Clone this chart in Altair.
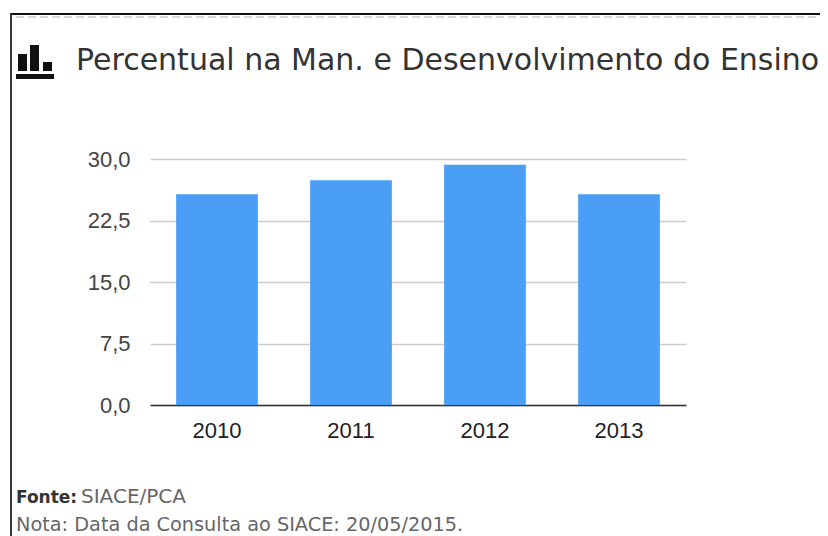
import altair as alt
import pandas as pd

years = ["2010", "2011", "2012", "2013"]
values = [25.7, 27.4, 29.3, 25.7]
y_ticks = [0, 7.5, 15, 22.5, 30]
title_text = "Percentual na Man. e Desenvolvimento do Ensino"
fonte_label = "Fonte:"
fonte_value = "SIACE/PCA"
nota_text = "Nota: Data da Consulta ao SIACE: 20/05/2015."

OX, OY = 150, 159  # plot origin on the page


def px(x):
    return alt.value(x - OX)


def py(y):
    return alt.value(y - OY)


df = pd.DataFrame({"ano": years, "valor": values})
one = pd.DataFrame({"a": [0]})

bars = alt.Chart(df).mark_bar(color="#4a9ef5").encode(
    x=alt.X(
        "ano:N",
        title=None,
        sort=years,
        scale=alt.Scale(paddingInner=0.39, paddingOuter=0.195),
        axis=alt.Axis(
            labelAngle=0, ticks=False, domainColor="#333333", domainWidth=1.5,
            labelFont="Liberation Sans", labelFontSize=22, labelColor="#222222",
            labelPadding=15,
        ),
    ),
    y=alt.Y(
        "valor:Q",
        title=None,
        scale=alt.Scale(domain=[0, 30]),
        axis=alt.Axis(
            values=y_ticks, ticks=False, domain=False, gridColor="#cccccc", gridWidth=1.3,
            labelFont="Liberation Sans", labelFontSize=22, labelColor="#444444",
            labelPadding=20, labelExpr="replace(format(datum.value, '.1f'), '.', ',')",
        ),
    ),
)


def rect(x1, x2, y1, y2, color):
    return alt.Chart(one).mark_rect(color=color).encode(
        x=px(x1), x2=px(x2), y=py(y1), y2=py(y2)
    )


def label(x, y, text, size, color, weight="normal"):
    return alt.Chart(pd.DataFrame({"t": [text]})).mark_text(
        align="left", baseline="alphabetic", font="DejaVu Sans",
        fontSize=size, color=color, fontWeight=weight,
    ).encode(x=px(x), y=py(y), text="t:N")


frame_top = rect(10, 828, 13, 15, "#111111")
frame_left = rect(10, 12, 13, 536, "#333333")
dashes = alt.Chart(one).mark_rule(color="#cccccc", strokeWidth=1.5, strokeDash=[8, 4]).encode(
    x=px(16), x2=px(828), y=py(17)
)
icon = [
    rect(18, 27, 54, 71, "#111111"),
    rect(30, 39, 45, 71, "#111111"),
    rect(43, 52, 62, 71, "#111111"),
    rect(16, 54, 74, 79, "#111111"),
]

chart = alt.layer(
    bars,
    frame_top, frame_left, dashes, *icon,
    label(76, 70, title_text, 30, "#333333"),
    label(16, 503, fonte_label, 17, "#333333", "bold"),
    label(81, 503, fonte_value, 20, "#666666"),
    label(16, 531, nota_text, 19.3, "#666666"),
).properties(
    width=536, height=246, background="white",
    autosize=alt.AutoSizeParams(type="none"),
    padding={"left": 142, "top": 151, "right": 134, "bottom": 131},
).configure_view(stroke=None)

chart.save("out.html", embed_options={"renderer": "svg", "actions": False})
